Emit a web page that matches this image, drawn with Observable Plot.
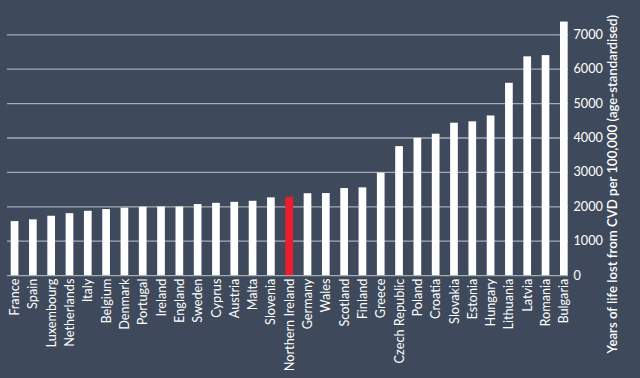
<!DOCTYPE html>
<html>
<head>
<meta charset="utf-8">
<script src="https://cdn.jsdelivr.net/npm/d3@7"></script>
<script src="https://cdn.jsdelivr.net/npm/@observablehq/plot@0.6"></script>
<style>
  html, body { margin: 0; padding: 0; background: #3e4a5b; }
  #chart svg { display: block; }
</style>
</head>
<body>
<div id="chart"></div>
<script>
const countries = ["France","Spain","Luxembourg","Netherlands","Italy","Belgium","Denmark","Portugal","Ireland","England","Sweden","Cyprus","Austria","Malta","Slovenia","Northern Ireland","Germany","Wales","Scotland","Finland","Greece","Czech Republic","Poland","Croatia","Slovakia","Estonia","Hungary","Lithuania","Latvia","Romania","Bulgaria"];
const values = [1570,1620,1725,1800,1870,1920,1960,1990,1995,1995,2065,2100,2130,2160,2260,2275,2380,2385,2530,2550,2977,3750,3990,4110,4430,4470,4640,5590,6360,6395,7370];
const highlight = "Northern Ireland";
const yTicks = [0,1000,2000,3000,4000,5000,6000,7000];
const yTitle = "Years of life lost from CVD per 100,000 (age-standardised)";

const data = countries.map((c, i) => ({country: c, value: values[i]}));

const chart = Plot.plot({
  width: 640,
  height: 378,
  marginLeft: 7,
  marginRight: 72,
  marginTop: 34.3,
  marginBottom: 102.9,
  style: {background: "#3e4a5b", color: "#ffffff", fontFamily: "Lato, 'Open Sans', sans-serif", fontSize: "12px"},
  x: {domain: countries, paddingInner: 0.58, paddingOuter: 0.11, align: 0.92, round: false, label: null},
  y: {domain: [0, 7000], label: null},
  marks: [
    Plot.gridY(yTicks, {stroke: "#a5abb2", strokeOpacity: 1, strokeWidth: 1.3}),
    Plot.barY(data, {x: "country", y: "value", fill: d => d.country === highlight ? "#ee1c2e" : "#ffffff"}),
    Plot.axisX({tickSize: 0, tickPadding: 3, tickRotate: -90, fill: "#ffffff", fontSize: 12.7, label: null}),
    Plot.axisY({anchor: "right", ticks: yTicks, tickFormat: d3.format("d"), tickSize: 0, tickPadding: 5, fill: "#ffffff", fontSize: 12.7, label: null}),
    Plot.text([yTitle], {frameAnchor: "right", textAnchor: "middle", dx: 48, dy: 29, rotate: -90, lineAnchor: "bottom", fill: "#ffffff", fontSize: 13.2, fontWeight: 600})
  ]
});
document.getElementById("chart").appendChild(chart);
</script>
</body>
</html>
